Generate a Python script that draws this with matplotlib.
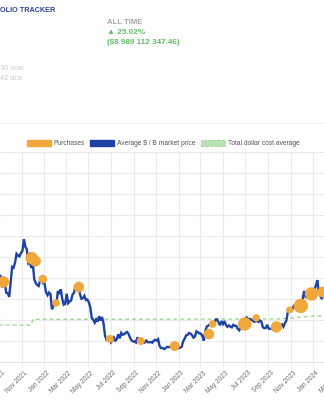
import matplotlib
matplotlib.use('Agg')
import matplotlib.pyplot as plt
import matplotlib.dates as mdates
import matplotlib.transforms as mtransforms
from matplotlib.patches import Patch
from matplotlib.lines import Line2D
import pandas as pd

plt.rcParams['font.family'] = ['Liberation Sans', 'DejaVu Sans']

# ---------------- data ----------------
price_start = '2021-08-31'
price_step = '4D'
price_k = [
    47.1, 51.5, 46.1, 46.0, 47.8, 43.0, 42.8, 41.0, 47.7, 55.3, 54.9, 57.4, 61.5, 60.7, 60.3, 61.9,
    62.9, 68.5, 64.9, 63.6, 57.0, 57.6, 54.8, 57.2, 49.4, 47.6, 46.7, 46.2, 48.9, 50.4, 47.5,
    47.3, 43.2, 41.8, 43.1, 42.4, 35.1, 36.8, 37.9, 37.0, 43.8, 42.4, 44.6, 40.1, 37.3, 37.7,
    42.5, 38.0, 38.8, 39.3, 42.2, 42.9, 46.8, 45.5, 46.6, 42.3, 40.1, 40.4, 41.5, 39.5, 39.7,
    38.5, 36.0, 31.0, 30.1, 28.7, 30.3, 29.2, 31.8, 29.7, 31.4, 28.4, 22.6, 20.6, 21.1, 20.7,
    19.3, 20.2, 21.6, 20.2, 20.8, 23.2, 21.3, 23.9, 23.0, 23.2, 23.9, 24.3, 23.3, 21.5, 20.3,
    19.8, 19.8, 19.3, 21.8, 19.7, 19.5, 19.3, 19.1, 19.3, 20.2, 19.4, 19.4, 19.5, 19.2, 20.1,
    20.6, 20.2, 20.9, 17.6, 16.6, 16.7, 16.2, 16.5, 17.2, 17.1, 17.2, 17.2, 16.6, 16.9, 16.8,
    16.5, 16.6, 16.8, 17.2, 19.9, 21.1, 22.7, 22.9, 23.8, 23.5, 22.8, 21.6, 22.2, 24.6, 24.2,
    23.6, 23.5, 22.4, 20.2, 24.7, 26.9, 27.3, 27.9, 28.0, 27.8, 27.9, 30.2, 30.3, 28.8, 27.5,
    29.5, 28.1, 29.5, 27.6, 26.8, 27.4, 26.8, 26.5, 27.7, 27.2, 27.2, 25.8, 25.1, 26.5, 29.9,
    30.3, 30.5, 31.2, 30.3, 30.6, 30.2, 29.8, 29.2, 29.3, 29.7, 29.1, 29.8, 29.3, 26.6, 26.1,
    26.2, 27.7, 25.9, 25.8, 25.8, 26.5, 26.8, 26.6, 26.2, 27.0, 27.4, 27.9, 26.8, 28.5, 29.7,
    33.9, 34.1, 35.4, 35.0, 36.7, 36.5, 36.2, 35.8, 37.7, 37.9, 39.9, 43.8, 41.2, 42.0, 42.3,
    43.7, 43.4, 42.3, 44.2, 46.5, 49.0, 43.1, 41.6, 40.0, 42.0, 43.2, 42.7,
]

purchase_dates = ['2021-09-12', '2021-11-28', '2021-12-08', '2021-12-28', '2022-02-02', '2022-04-05',
                  '2022-06-28', '2022-09-20', '2022-12-21', '2023-03-24', '2023-04-03', '2023-06-29',
                  '2023-07-30', '2023-09-23', '2023-10-29', '2023-11-28', '2023-12-27', '2024-01-27']
purchase_price_k = [48.1, 59.5, 58.1, 49.5, 38.1, 45.7, 21.0, 20.0, 17.6, 23.3, 28.1, 28.1,
                    31.0, 26.7, 34.8, 36.7, 42.4, 43.3]
purchase_amount = [580, 620, 560, 430, 380, 530, 400, 400, 500, 530, 380, 670,
                   370, 570, 350, 720, 670, 550]

dca_dates = ['2021-08-31', '2021-11-27', '2021-12-01', '2023-10-01', '2023-10-29', '2023-11-28',
             '2023-12-27', '2024-01-27', '2024-02-15']
dca_k = [27.6, 27.6, 30.3, 30.5, 30.9, 31.4, 31.8, 32.0, 32.1]

legend_labels = ['Purchases', 'Average $ / B market price', 'Total dollar cost average']

# ---------------- figure ----------------
W, H = 324, 400
fig = plt.figure(figsize=(W / 100, H / 100), dpi=100)
fig.patch.set_facecolor('white')


def fx(px):
    return px / W


def fy(py):
    return 1 - py / H


ORANGE = '#f0a83c'
BLUE = '#1f43a3'
GREEN = '#96d68c'
GRID = '#ebebeb'

ax_l, ax_r, ax_t, ax_b = -30, 354, 152, 362
ax = fig.add_axes([fx(ax_l), fy(ax_b), (ax_r - ax_l) / W, (ax_b - ax_t) / H])

# x scale calibrated to the reference tick positions
ref_date = mdates.date2num(pd.Timestamp('2021-11-01'))
ref_px = 21.7
ppd = (313.3 - 21.7) / 791.0
ax.set_xlim(ref_date + (ax_l - ref_px) / ppd, ref_date + (ax_r - ref_px) / ppd)
ax.set_ylim(10, 110)
ax.set_yticks(range(10, 111, 10))
ax.tick_params(axis='y', length=0, labelleft=False)

price_dates = pd.date_range(price_start, periods=len(price_k), freq=price_step)
ax.plot(price_dates, price_k, color=BLUE, lw=1.7, zorder=3, solid_joinstyle='miter')

ax.plot(pd.to_datetime(dca_dates), dca_k, color=GREEN, lw=0.9, ls=(0, (3, 2.5)), zorder=2)

sizes = [(1.44 * a / 100.0) ** 2 for a in purchase_amount]
ax.scatter(pd.to_datetime(purchase_dates), purchase_price_k, s=sizes, color=ORANGE,
           edgecolors='none', zorder=4)

ax.xaxis.set_major_locator(mdates.MonthLocator(bymonth=[1, 3, 5, 7, 9, 11]))
ax.xaxis.set_major_formatter(mdates.DateFormatter('%b %Y'))
ax.tick_params(axis='x', length=3, color=GRID, pad=2.5, labelsize=4.7, labelcolor='#6b6b6b')
shift = mtransforms.ScaledTranslation(2 / 100, 0, fig.dpi_scale_trans)
for lbl in ax.get_xticklabels():
    lbl.set_rotation(45)
    lbl.set_ha('right')
    lbl.set_rotation_mode('anchor')
    lbl.set_transform(lbl.get_transform() + shift)

ax.grid(True, color=GRID, lw=0.8)
ax.set_axisbelow(True)
for s in ['left', 'right', 'top']:
    ax.spines[s].set_visible(False)
ax.spines['bottom'].set_color('#e2e2e2')
ax.spines['bottom'].set_linewidth(0.8)

# legend
handles = [Patch(facecolor=ORANGE, edgecolor=ORANGE),
           Patch(facecolor=BLUE, edgecolor=BLUE),
           Patch(facecolor='#b5e3ad', edgecolor=GREEN, linestyle='--', linewidth=0.6)]
fs = 4.75
fpx = fs * 100 / 72
fig.legend(handles, legend_labels, loc='center', bbox_to_anchor=(fx(163), fy(143.5)),
           ncol=3, frameon=False, fontsize=fs, labelcolor='#555555',
           handlelength=24 / fpx, handleheight=7 / fpx, handletextpad=3 / fpx,
           columnspacing=5 / fpx, borderpad=0, borderaxespad=0)

# separator line
fig.add_artist(Line2D([0, 1], [fy(123), fy(123)], transform=fig.transFigure,
                      color='#f0f0f0', lw=0.8))

# header texts
fig.text(fx(0), fy(11), 'OLIO TRACKER', fontsize=5.2, fontweight='bold', color='#2b4394',
         va='center', ha='left')
fig.text(fx(107), fy(22), 'ALL TIME', fontsize=5.6, fontweight='bold', color='#a3a7ad',
         va='center', ha='left')
fig.text(fx(107), fy(33), '▲ 25.02%', fontsize=5.9, fontweight='bold', color='#66bb6a',
         va='center', ha='left')
fig.text(fx(107), fy(43), '($8 989 112 347.46)', fontsize=5.9, fontweight='bold', color='#66bb6a',
         va='center', ha='left')
fig.text(fx(0), fy(69), '30 now', fontsize=5.3, color='#cbcbcb', va='center', ha='left')
fig.text(fx(0), fy(79), '42 dca', fontsize=5.3, color='#cbcbcb', va='center', ha='left')

fig.savefig('out.png', dpi=100)
